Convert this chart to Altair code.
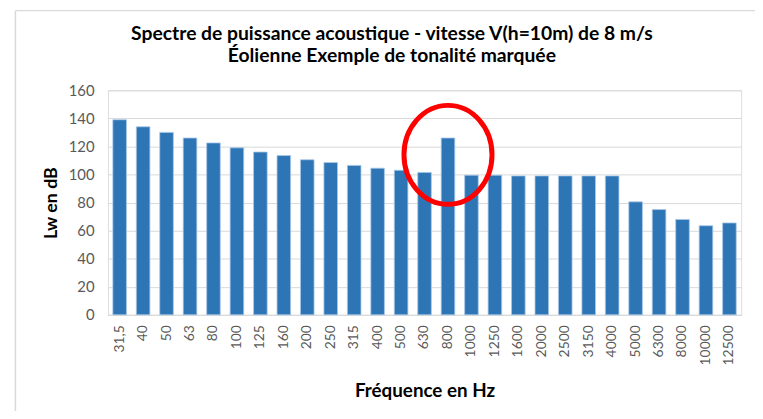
import altair as alt
import pandas as pd

frequencies = ["31,5", "40", "50", "63", "80", "100", "125", "160", "200", "250",
               "315", "400", "500", "630", "800", "1000", "1250", "1600", "2000",
               "2500", "3150", "4000", "5000", "6300", "8000", "10000", "12500"]
lw_values = [139, 134, 130, 126, 122.5, 119, 116, 113.5, 110.5, 108.5,
             106.5, 104.5, 103, 101.5, 126, 99.5, 99.5, 99, 99,
             99, 99, 99, 80.5, 75, 68, 63.5, 65.5]
y_ticks = [0, 20, 40, 60, 80, 100, 120, 140, 160]

highlight_freq = ["800"]
highlight_level = [114]

title_lines = ["Spectre de puissance acoustique - vitesse V(h=10m) de 8 m/s",
               "Éolienne Exemple de tonalité marquée"]

FONT = "Lato"

df = pd.DataFrame({"freq": frequencies, "lw": lw_values})
df_hl = pd.DataFrame({"freq": highlight_freq, "lw": highlight_level})
df_title = pd.DataFrame({"line": title_lines, "row": [0, 1]})

x_enc = alt.X("freq:N", sort=None,
              scale=alt.Scale(domain=frequencies, paddingInner=0.42, paddingOuter=0.21),
              axis=alt.Axis(title="Fréquence en Hz", labelAngle=270, labelPadding=10,
                            ticks=False, domainColor="#d9d9d9", domainWidth=1,
                            labelColor="#595959", labelFontSize=14, labelFont=FONT,
                            labelOverlap=False,
                            titleFont=FONT, titleFontSize=19, titleFontWeight="bold",
                            titleColor="#000000", titlePadding=17))
y_enc = alt.Y("lw:Q", scale=alt.Scale(domain=[0, 160], nice=False),
              axis=alt.Axis(title="Lw en dB", values=y_ticks, ticks=False,
                            domain=False,
                            gridColor="#d9d9d9", gridWidth=1, labelPadding=14,
                            labelOverlap=False,
                            labelColor="#595959", labelFontSize=15, labelFont=FONT,
                            titleFont=FONT, titleFontSize=18, titleFontWeight="bold",
                            titleColor="#000000", titlePadding=8))

bars = alt.Chart(df).mark_bar(color="#2E75B6", stroke="#a9c8e8", strokeWidth=0.8).encode(
    x=x_enc, y=y_enc)

ellipse_path = ("M 0.89,0 C 0.89,0.5523 0.4915,1 0,1 C -0.4915,1 -0.89,0.5523 -0.89,0 "
                "C -0.89,-0.5523 -0.4915,-1 0,-1 C 0.4915,-1 0.89,-0.5523 0.89,0 Z")
circle = alt.Chart(df_hl).mark_point(shape=ellipse_path, size=10000, filled=False,
                                     color="#FF0000", strokeWidth=5, opacity=1).encode(
    x=x_enc,
    y=alt.Y("lw:Q", scale=alt.Scale(domain=[0, 160], nice=False), axis=None))

frame_left = alt.Chart(df_hl).mark_rule(color="#d9d9d9", strokeWidth=1.5).encode(
    x=alt.value(-93.5), y=alt.value(-80.5), y2=alt.value(400))
frame_top = alt.Chart(df_hl).mark_rule(color="#d9d9d9", strokeWidth=1.5).encode(
    y=alt.value(-80.5), x=alt.value(-93.5), x2=alt.value(700))

title_layers = []
for row, ypos in [(0, -57), (1, -35)]:
    title_layers.append(
        alt.Chart(df_title).transform_filter(alt.datum.row == row).mark_text(
            font=FONT, fontSize=19.5, fontWeight="bold", color="#000000",
            align="center", baseline="middle").encode(
            text="line:N", x=alt.value(287), y=alt.value(ypos)))

chart = alt.layer(bars, circle, frame_left, frame_top, *title_layers).resolve_scale(
    y="independent").properties(
    width=640, height=227,
    autosize=alt.AutoSizeParams(type="none"),
    padding={"left": 101, "top": 81, "right": 14, "bottom": 95},
).configure_view(stroke=None).configure(background="white")

chart.save("out.html", embed_options={"renderer": "svg", "actions": False})
